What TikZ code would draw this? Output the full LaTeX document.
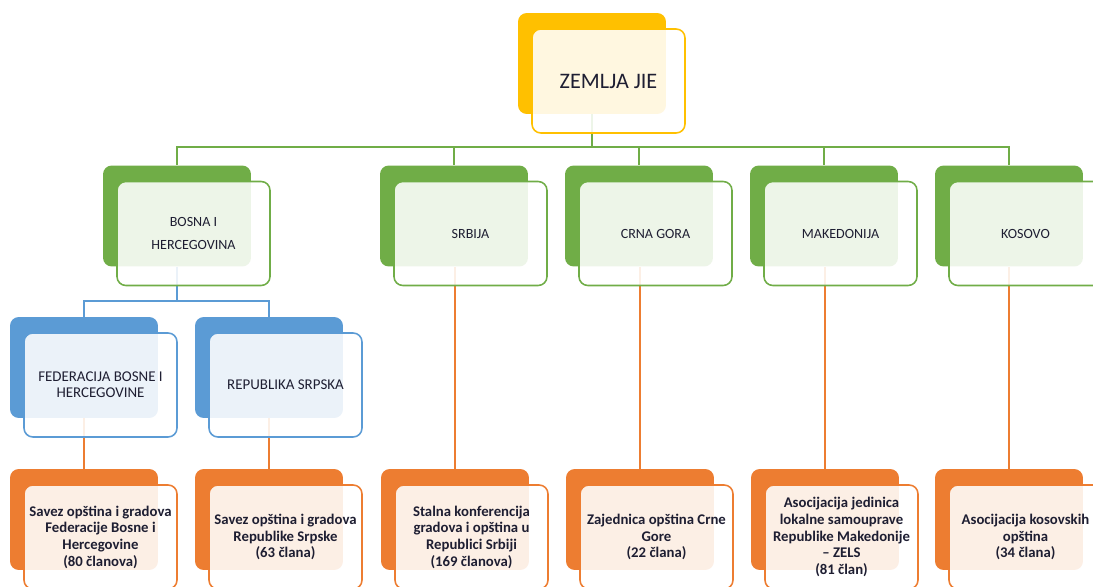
\documentclass[tikz,border=0pt]{standalone}
\usepackage{fontspec}
\setmainfont{Carlito}
\usepackage{xcolor}
\usetikzlibrary{positioning}
\definecolor{yel}{RGB}{255,192,0}
\definecolor{grn}{RGB}{112,173,71}
\definecolor{blu}{RGB}{91,155,213}
\definecolor{org}{RGB}{237,125,49}
\definecolor{txt}{RGB}{30,30,50}
\pgfdeclarelayer{background}
\pgfsetlayers{background,main}
\tikzset{
  back/.style={fill=#1, rounded corners=5pt, inner sep=0pt, minimum width=2.96cm, minimum height=2.02cm},
  front/.style={draw=#1, line width=0.9pt, rounded corners=5pt, fill=white, fill opacity=0.88, text opacity=1,
    inner sep=1pt, minimum width=3.06cm, minimum height=2.08cm, align=center, text=txt},
  link/.style={draw=#1, line width=0.9pt},
}
\newcommand{\lvtop}{\fontsize{12.6}{14}\selectfont}
\newcommand{\lvgrn}{\fontsize{8}{13.6}\selectfont}
\newcommand{\lvblu}{\fontsize{8.5}{9}\selectfont}
\newcommand{\lvorg}{\bfseries\fontsize{8.4}{9.5}\selectfont}

\begin{document}
\begin{tikzpicture}[x=0.02cm,y=-0.02cm]
    \useasboundingbox (0,0) rectangle (1093,587);

    \node[back=yel] (zem-bg) at (592,63.5) {};
    \node[front=yel, font=\lvtop] (zem) at ([shift={(16.5,17.5)}]zem-bg) {ZEMLJA JIE};

    %zemlje
    \foreach \n/\x/\t in {bih/177/{BOSNA I\\HERCEGOVINA}, srb/454/SRBIJA, cg/639/CRNA GORA, mk/824/MAKEDONIJA, ks/1009/KOSOVO}{
      \node[back=grn] (\n-bg) at (\x,216) {};
      \node[front=grn, font=\lvgrn] (\n) at ([shift={(16.5,17.5)}]\n-bg) {\t};
    }
    %entiteti
    \foreach \n/\x/\t in {fed/84/{FEDERACIJA BOSNE I\\HERCEGOVINE}, rs/269/REPUBLIKA SRPSKA}{
      \node[back=blu] (\n-bg) at (\x,367.5) {};
      \node[front=blu, font=\lvblu] (\n) at ([shift={(16.5,17.5)}]\n-bg) {\t};
    }
    %asocijacije
    \foreach \n/\x/\t in {fedo/84/{Savez opština i gradova\\Federacije Bosne i\\Hercegovine\\(80 članova)},
      rso/269/{Savez opština i gradova\\Republike Srpske\\(63 člana)},
      srbo/455/{Stalna konferencija\\gradova i opština u\\Republici Srbiji\\(169 članova)},
      cgo/640/{Zajednica opština Crne\\Gore\\(22 člana)},
      mko/825/{Asocijacija jedinica\\lokalne samouprave\\Republike Makedonije\\– ZELS\\(81 član)},
      kso/1009/{Asocijacija kosovskih\\opština\\(34 člana)}}{
      \node[back=org] (\n-bg) at (\x,519.5) {};
      \node[front=org, font=\lvorg] (\n) at ([shift={(16.5,17.5)}]\n-bg) {\t};
    }

    \begin{pgfonlayer}{background}
    \coordinate (bus) at (0,147);
    \coordinate (busb) at (0,301);
    \foreach \n in {bih,srb,cg,mk,ks}
      \draw[link=grn, line width=1.1pt] (zem-bg.south) |- (\n-bg.north |- bus) -- (\n-bg.north);
    \foreach \n in {fed,rs}
      \draw[link=blu] (bih-bg.south) |- (\n-bg.north |- busb) -- (\n-bg.north);
    \foreach \a/\b in {fed/fedo,rs/rso,srb/srbo,cg/cgo,mk/mko,ks/kso}
      \draw[link=org] (\b-bg.north |- \a-bg.south) -- (\b-bg.north);
    \end{pgfonlayer}
\end{tikzpicture}
\end{document}
